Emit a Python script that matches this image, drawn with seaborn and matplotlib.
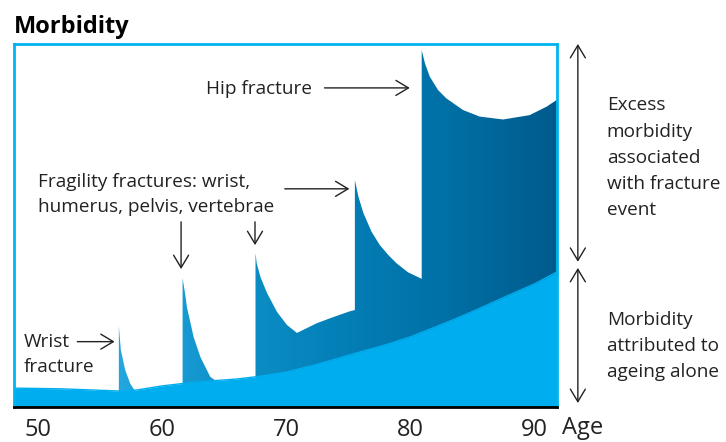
import numpy as np
import matplotlib
matplotlib.use("Agg")
import matplotlib.pyplot as plt
import seaborn as sns
from matplotlib.colors import LinearSegmentedColormap

# morbidity from ageing alone (arbitrary units, 0-100)
base_age = [48.1, 52, 56.6, 58, 60, 62, 64, 66, 68, 70, 72, 74, 76, 78, 80, 82, 84, 86, 88, 90, 91.8]
base_h = [5.2, 5.0, 4.4, 4.7, 5.8, 6.6, 7.2, 7.7, 8.5, 9.6, 11.3, 13.2, 15.2, 17.1, 19.3, 22.0, 24.8, 27.8, 30.9, 33.9, 37.2]

# excess morbidity after each fracture event (top edge of dark area)
wrist_age = [56.54, 56.7, 57.05, 57.45, 57.8]
wrist_h = [22.3, 15.7, 10.2, 6.5, 4.6]
humerus_age = [61.67, 61.87, 62.02, 62.56, 63.1, 63.9, 64.6]
humerus_h = [35.5, 31.3, 27.5, 19.3, 13.8, 8.3, 6.6]
pelvis_age = [67.54, 67.64, 67.94, 68.47, 69.27, 70.07, 70.88, 72.49, 73.83, 75.17, 75.54]
pelvis_h = [42.4, 39.6, 35.8, 31.4, 26.2, 22.6, 20.4, 23.1, 24.8, 26.4, 26.7]
vert_age = [75.54, 75.83, 76.23, 76.88, 77.55, 78.22, 78.89, 79.82, 80.92]
vert_h = [62.5, 57.9, 53.4, 48.3, 44.6, 41.9, 39.6, 37.1, 35.3]
hip_age = [80.92, 81.18, 81.57, 82.24, 82.91, 84.25, 85.59, 87.47, 89.61, 90.96, 91.8]
hip_h = [98.3, 94.7, 91.0, 87.3, 85.0, 81.8, 80.0, 79.2, 80.4, 82.7, 84.6]

age_ticks = [50, 60, 70, 80, 90]

light_blue = "#00AEEF"
cmap = LinearSegmentedColormap.from_list("excess", ["#25A8E0", "#0E92C9", "#0480B8", "#0070A5", "#005A8C"])

sns.set_style("white")
plt.rcParams["font.family"] = ["Open Sans", "DejaVu Sans"]

fig, ax = plt.subplots(figsize=(7.26, 4.42), dpi=100)
fig.subplots_adjust(left=0.0193, right=0.767, bottom=0.0792, top=0.9005)

# dark excess area, one polygon with vertical jumps at each fracture
xs, ys = [], []
for a, h in [(wrist_age, wrist_h), (humerus_age, humerus_h), (pelvis_age, pelvis_h),
             (vert_age, vert_h), (hip_age, hip_h)]:
    xs += [a[0]] + list(a) + [a[-1]]
    ys += [0] + list(h) + [0]
patch = ax.fill(xs, ys, facecolor="none", edgecolor="none")[0]
grad = np.linspace(0, 1, 256).reshape(1, -1)
im = ax.imshow(grad, extent=[56, 92, 0, 100], aspect="auto", cmap=cmap, origin="lower", zorder=1)
im.set_clip_path(patch)

# ageing baseline
ax.fill_between(base_age, base_h, 0, color=light_blue, lw=0, zorder=2)
sns.lineplot(x=base_age, y=base_h, color=light_blue, lw=1, ax=ax, zorder=2)

ax.set_xlim(48.1, 91.8)
ax.set_ylim(0, 100)
ax.set_xticks(age_ticks)
ax.set_yticks([])
ax.tick_params(axis="x", length=7, width=1.3, color="black", labelsize=17, labelcolor="#222222", pad=1)
for s in ["left", "top", "right"]:
    ax.spines[s].set_color("#00B4F0")
    ax.spines[s].set_linewidth(2)
ax.spines["bottom"].set_color("black")
ax.spines["bottom"].set_linewidth(2)
ax.spines["bottom"].set_zorder(5)

arrow = dict(arrowstyle="->, head_length=0.5, head_width=0.3", color="#222222", lw=1, mutation_scale=18,
             shrinkA=0, shrinkB=0)
txt = dict(fontsize=13.7, color="#222222")

# annotations (multi-line texts are placed by the baseline of their last line)
ax.text(72.1, 87.6, "Hip fracture", ha="right", va="center", **txt)
ax.annotate("", xy=(79.96, 87.9), xytext=(73.1, 87.9), arrowprops=arrow)

ax.text(50.05, 53.7, "Fragility fractures: wrist,\nhumerus, pelvis, vertebrae", ha="left", va="baseline",
        linespacing=1.5, **txt)
ax.annotate("", xy=(61.55, 38.0), xytext=(61.55, 51.0), arrowprops=arrow)
ax.annotate("", xy=(67.5, 44.6), xytext=(67.5, 51.0), arrowprops=arrow)
ax.annotate("", xy=(75.1, 60.1), xytext=(69.9, 60.1), arrowprops=arrow)

ax.text(48.87, 9.7, "Wrist\nfracture", ha="left", va="baseline", linespacing=1.5, **txt)
ax.annotate("", xy=(56.2, 18.0), xytext=(53.2, 18.0), arrowprops=arrow)

# right-hand bracket arrows and labels
ax.annotate("", xy=(1.0387, 1.0), xytext=(1.0387, 0.40), xycoords="axes fraction",
            arrowprops=dict(arrow, arrowstyle="<->, head_length=0.5, head_width=0.3"), annotation_clip=False)
ax.annotate("", xy=(1.0387, 0.383), xytext=(1.0387, 0.011), xycoords="axes fraction",
            arrowprops=dict(arrow, arrowstyle="<->, head_length=0.5, head_width=0.3"), annotation_clip=False)
ax.text(1.092, 0.529, "Excess\nmorbidity\nassociated\nwith fracture\nevent", transform=ax.transAxes,
        ha="left", va="baseline", linespacing=1.58, **txt)
ax.text(1.092, 0.0826, "Morbidity\nattributed to\nageing alone", transform=ax.transAxes,
        ha="left", va="baseline", linespacing=1.58, **txt)
ax.text(1.01, -0.058, "Age", transform=ax.transAxes, ha="left", va="center", fontsize=17, color="#222222")

fig.text(0.019, 0.925, "Morbidity", ha="left", va="baseline", fontsize=17, fontweight="bold", color="black")

fig.savefig("out.png", dpi=100)
